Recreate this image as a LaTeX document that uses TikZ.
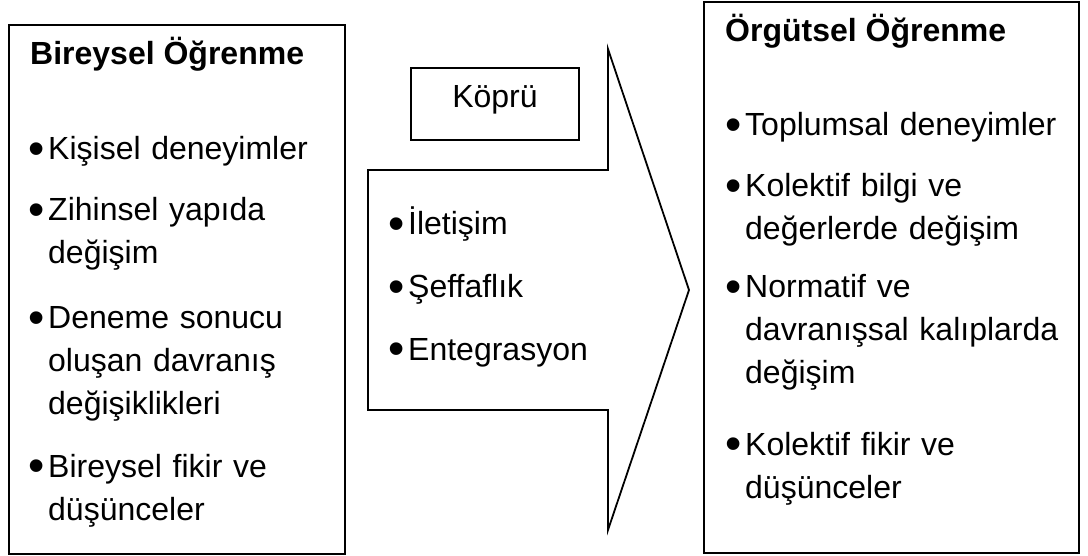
\documentclass[tikz,border=0pt]{standalone}
\usepackage{graphicx}
\usepackage{fontspec}
\setmainfont{Liberation Sans}
\newcommand\mybul{\leavevmode\llap{\makebox[20pt][l]{\raisebox{-4.5pt}{\scalebox{1.45}{•}}}}}
\begin{document}
\begin{tikzpicture}[x=1pt,y=-1pt,
  box/.style={draw=black, line width=1.8pt, inner sep=0pt},
  item/.style={anchor=base west, inner sep=0pt, text width=#1, align=left,
    font=\fontsize{32pt}{43pt}\selectfont},
  item/.default=320pt,
  title/.style={anchor=base west, inner sep=0pt,
    font=\fontsize{32pt}{38pt}\selectfont\bfseries},
  arrowshape/.style={draw=black, line width=1.8pt, line join=miter}]
\useasboundingbox (0,0) rectangle (1088,556);

% left box
\node[box, minimum width=336pt, minimum height=529pt] (left) at (177,289.5) {};
\node[title] (ltitle) at (30,65) {Bireysel Öğrenme};
\node[item=290pt] (l1) at (48,160) {\mybul Kişisel deneyimler};
\node[item=290pt] (l2) at (48,221) {\mybul Zihinsel yapıda\\değişim};
\node[item=290pt] (l3) at (48,329) {\mybul Deneme sonucu\\oluşan davranış\\değişiklikleri};
\node[item=290pt] (l4) at (48,477) {\mybul Bireysel fikir ve\\düşünceler};

% bridge label
\node[box, minimum width=168pt, minimum height=72pt, text height=16pt, text depth=8pt,
  font=\fontsize{32pt}{38pt}\selectfont] (kopru) at (495,104) {Köprü};

% arrow
\coordinate (a1) at (368,170);
\coordinate (a2) at (608,170);
\coordinate (a3) at (608,49);
\coordinate (a4) at (689,290);
\coordinate (a5) at (608,530);
\coordinate (a6) at (608,410);
\coordinate (a7) at (368,410);
\draw[arrowshape] (a1) -- (a2) -- (a3) -- (a4) -- (a5) -- (a6) -- (a7) -- cycle;
\node[item=190pt] (m1) at (408,235) {\mybul İletişim};
\node[item=190pt] (m2) at (408,298) {\mybul Şeffaflık};
\node[item=190pt] (m3) at (408,360) {\mybul Entegrasyon};

% right box
\node[box, minimum width=375pt, minimum height=551pt] (right) at (891.5,277.5) {};
\node[title] (rtitle) at (725,42) {Örgütsel Öğrenme};
\node[item] (r1) at (745,136) {\mybul Toplumsal deneyimler};
\node[item] (r2) at (745,197) {\mybul Kolektif bilgi ve\\değerlerde değişim};
\node[item] (r3) at (745,298) {\mybul Normatif ve\\davranışsal kalıplarda\\değişim};
\node[item] (r4) at (745,455) {\mybul Kolektif fikir ve\\düşünceler};
\end{tikzpicture}
\end{document}
